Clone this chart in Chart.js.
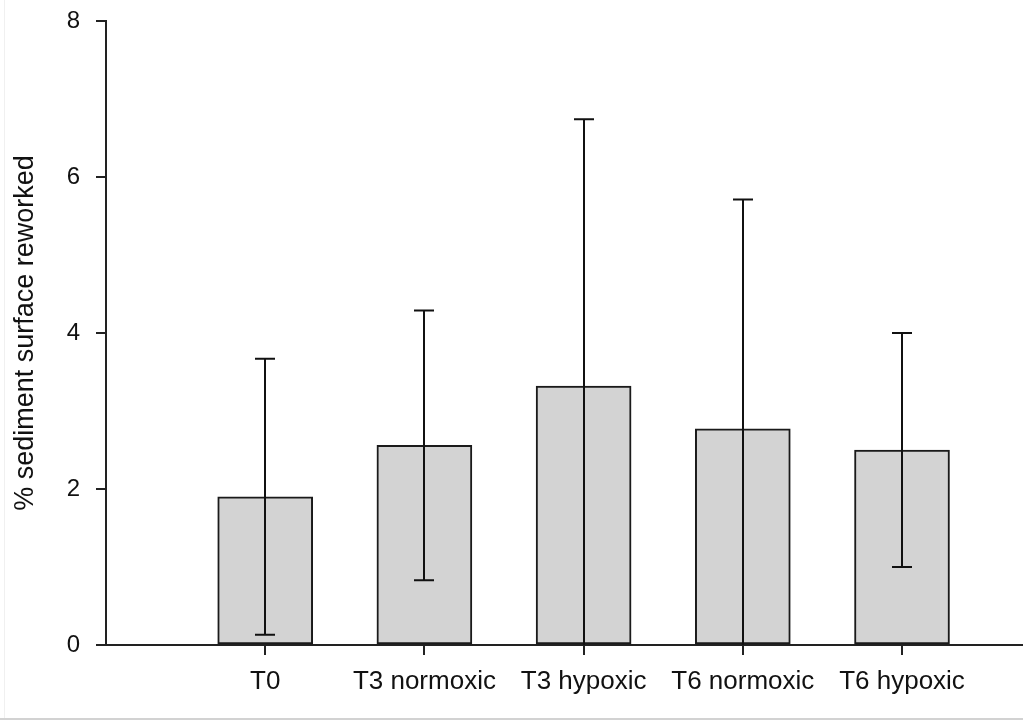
<!DOCTYPE html>
<html>
<head>
<meta charset="utf-8">
<script src="https://cdn.jsdelivr.net/npm/chart.js@4"></script>
<style>
    body { margin: 0; background: #fff; }
    #wrap { position: relative; width: 1023px; height: 720px; }
    #edge-left { position: absolute; left: 4px; top: 0; width: 1px; height: 718px; background: #f0f0f0; }
    #edge-bottom { position: absolute; left: 0; top: 718px; width: 1023px; height: 2px; background: #d2d2d2; }
</style>
</head>
<body>
<div id="wrap">
    <canvas id="rework" width="1023" height="720"></canvas>
    <div id="edge-left"></div>
    <div id="edge-bottom"></div>
</div>
<script>
const categories = ['T0', 'T3 normoxic', 'T3 hypoxic', 'T6 normoxic', 'T6 hypoxic'];
const means = [1.90, 2.56, 3.32, 2.77, 2.50];
const errors = [1.77, 1.73, 3.42, 2.94, 1.50];
const yTicks = [0, 2, 4, 6, 8];

const FONT = "'Liberation Sans', Arial, sans-serif";

// vertical error bars with caps, clipped to the plot so bars reaching below 0 stop at the axis
const errorBars = {
    id: 'errorBars',
    afterDatasetsDraw(chart) {
        const { ctx, chartArea, scales: { x, y } } = chart;
        ctx.save();
        ctx.beginPath();
        ctx.rect(chartArea.left, chartArea.top - 4, chartArea.right - chartArea.left, chartArea.bottom - chartArea.top + 4);
        ctx.clip();
        ctx.strokeStyle = '#111';
        ctx.lineWidth = 2;
        means.forEach((m, i) => {
            const px = Math.round(x.getPixelForValue(i + 1));
            const top = y.getPixelForValue(m + errors[i]);
            const bottom = y.getPixelForValue(m - errors[i]);
            ctx.beginPath();
            ctx.moveTo(px, top);
            ctx.lineTo(px, bottom);
            ctx.moveTo(px - 10, top);
            ctx.lineTo(px + 10, top);
            ctx.moveTo(px - 10, bottom);
            ctx.lineTo(px + 10, bottom);
            ctx.stroke();
        });
        ctx.restore();
    }
};

// keep the plot box fixed: no extra room for half-height tick labels
function noScalePadding(scale) {
    scale.paddingTop = 0;
    scale.paddingBottom = 0;
    scale.paddingLeft = 0;
    scale.paddingRight = 0;
}

const ctx = document.getElementById('rework');
const chart = new Chart(ctx, {
    type: 'bar',
    data: {
        datasets: [{
            data: categories.map((c, i) => ({ x: i + 1, y: means[i] })),
            backgroundColor: '#d3d3d3',
            borderColor: '#1a1a1a',
            borderWidth: 2,
            borderSkipped: false,
            barThickness: 95,
        }]
    },
    options: {
        responsive: false,
        animation: false,
        layout: { padding: { top: 21, right: 0, left: 0, bottom: 0 } },
        scales: {
            x: {
                type: 'linear',
                min: 0,
                max: 5.76,
                offset: false,
                afterFit: (scale) => { scale.height = 75; noScalePadding(scale); },
                afterBuildTicks: (scale) => {
                    scale.ticks = categories.map((c, i) => ({ value: i + 1 }));
                },
                ticks: {
                    autoSkip: false,
                    maxRotation: 0,
                    padding: 11,
                    color: '#111',
                    font: { family: FONT, size: 26 },
                    callback: (v) => categories[v - 1],
                },
                grid: {
                    offset: false,
                    drawOnChartArea: false,
                    drawTicks: true,
                    tickLength: 10,
                    color: '#222',
                    lineWidth: 2,
                },
                border: { display: true, color: '#222', width: 2 },
            },
            y: {
                min: 0,
                max: 8,
                afterFit: (scale) => { scale.width = 106; noScalePadding(scale); },
                afterBuildTicks: (scale) => {
                    scale.ticks = yTicks.map(v => ({ value: v }));
                },
                ticks: {
                    padding: 16,
                    color: '#111',
                    font: { family: FONT, size: 24 },
                },
                grid: {
                    drawOnChartArea: false,
                    drawTicks: true,
                    tickLength: 10,
                    color: '#222',
                    lineWidth: 2,
                },
                border: { display: true, color: '#222', width: 2 },
                title: {
                    display: true,
                    text: '% sediment surface reworked',
                    color: '#111',
                    font: { family: FONT, size: 27 },
                    padding: { top: 9, bottom: 0 },
                },
            }
        },
        plugins: {
            legend: { display: false },
            tooltip: { enabled: false },
        }
    },
    plugins: [errorBars]
});
</script>
</body>
</html>
